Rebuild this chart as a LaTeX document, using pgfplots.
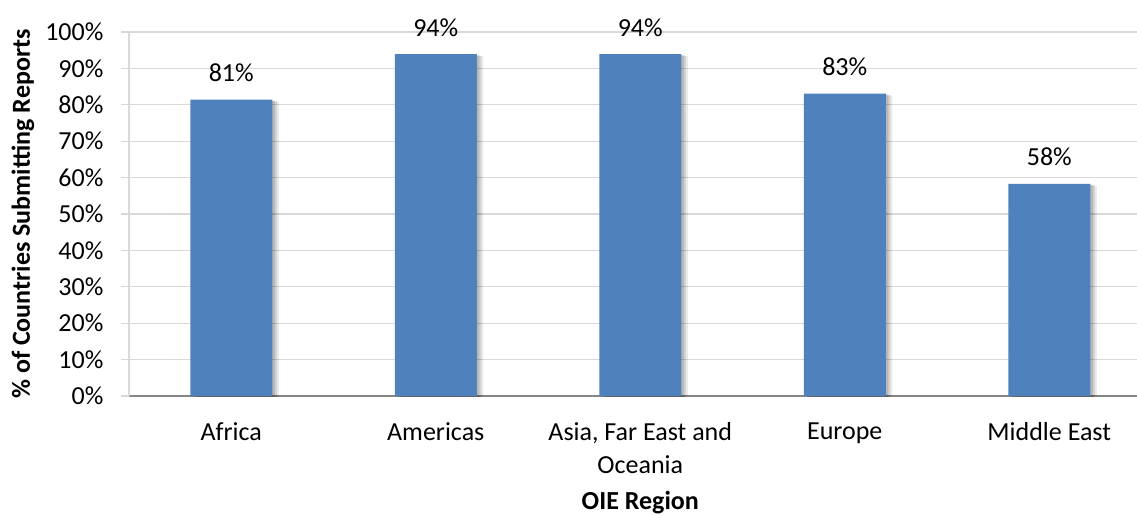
\documentclass[border=0pt]{standalone}
\usepackage{pgfplots}
\pgfplotsset{compat=1.18}
\usepackage{fontspec}
\setmainfont{Carlito}
\definecolor{barblue}{HTML}{4F81BD}
\definecolor{gridgray}{HTML}{D9D9D9}
\definecolor{axisgray}{HTML}{868686}
\pgfplotstableread{
x  share
0  81.4
1  93.9
2  93.9
3  83.1
4  58.3
}\regiondata
\begin{document}
\fontsize{19.5pt}{24.5pt}\selectfont
\begin{tikzpicture}
\path[use as bounding box] (0,0) rectangle (852.75pt,385.5pt);
\clip (0,0) rectangle (852.75pt,385.5pt);
\begin{axis}[
  at={(96.75pt,88.5pt)}, anchor=south west,
  scale only axis,
  width=766.9pt, height=273pt,
  xmin=-0.5, xmax=4.5,
  ymin=0, ymax=100,
  ytick={0,10,...,100},
  yticklabel={\pgfmathprintnumber[assume math mode=true]{\tick}\%},
  xtick={0,1,2,3,4},
  xticklabels={Africa,Americas,{Asia, Far East and\\Oceania},Europe,Middle East},
  xticklabel style={align=center, anchor=north, inner sep=0pt, yshift=-14pt},
  yticklabel style={anchor=east, inner sep=0pt, xshift=-13pt},
  major x tick style={draw=none},
  extra x ticks={-0.5,0.5,1.5,2.5,3.5,4.5},
  extra x tick labels={},
  extra x tick style={major tick length=5pt, tick style={axisgray, line width=0.9pt}, tick align=outside},
  ytick style={gridgray, line width=0.9pt},
  major tick length=6pt,
  tick align=outside,
  ymajorgrids,
  grid style={gridgray, line width=0.9pt},
  axis x line*=bottom,
  axis y line*=left,
  x axis line style={axisgray, line width=1.2pt, -},
  y axis line style={gridgray, line width=0.9pt, -},
  ybar, bar width=61.5pt,
  ylabel={\bfseries \% of Countries Submitting Reports},
  every axis y label/.style={at={(axis description cs:0,0.5)}, rotate=90, anchor=center, yshift=79.5pt},
  xlabel={\bfseries OIE Region},
  every axis x label/.style={at={(axis description cs:0.5,0)}, anchor=center, yshift=-80pt},
]
% soft drop shadow behind the bars, built from a few offset translucent layers
\addplot[bar shift=0pt, fill=black, draw=none, fill opacity=0.08, xshift=5pt, yshift=-1.5pt, forget plot] table[x=x, y=share] {\regiondata};
\addplot[bar shift=0pt, fill=black, draw=none, fill opacity=0.10, xshift=3.5pt, yshift=-1.1pt, forget plot] table[x=x, y=share] {\regiondata};
\addplot[bar shift=0pt, fill=black, draw=none, fill opacity=0.13, xshift=2pt, yshift=-0.7pt, forget plot] table[x=x, y=share] {\regiondata};
% the bars themselves
\addplot[bar shift=0pt, fill=barblue, draw=none,
  nodes near coords={\pgfmathprintnumber[fixed, precision=0, assume math mode=true]{\pgfplotspointmeta}\%},
  every node near coord/.append style={anchor=base, yshift=13.5pt, inner sep=0pt, text=black}]
  table[x=x, y=share] {\regiondata};
\end{axis}
\end{tikzpicture}
\end{document}
